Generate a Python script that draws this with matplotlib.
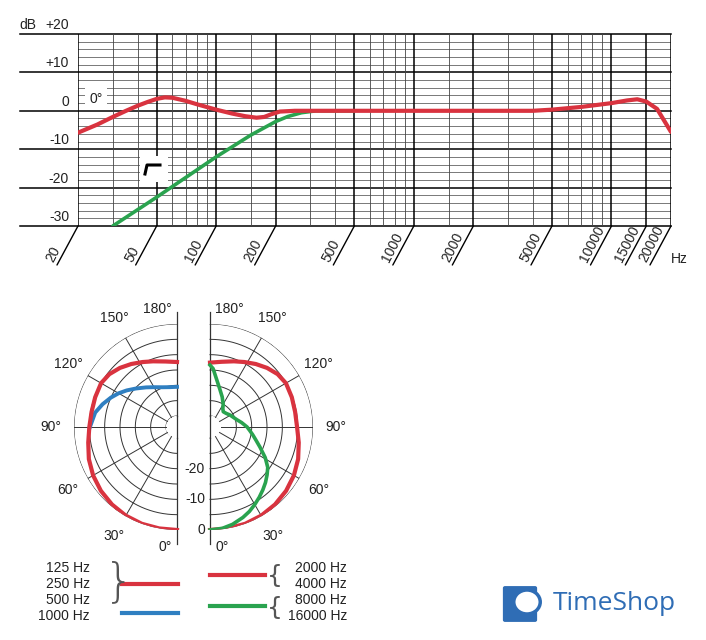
import numpy as np
import matplotlib
matplotlib.use("Agg")
import matplotlib.pyplot as plt
from matplotlib.patches import FancyBboxPatch, Circle, Rectangle

plt.rcParams['font.family'] = ['Liberation Sans', 'DejaVu Sans']

W, H = 706, 640

# frequency response (0 deg)
resp_freq = [20, 25, 30, 35, 40, 45, 50, 55, 60, 70, 80, 100, 120, 140, 160, 175, 190,
             210, 250, 500, 1000, 2000, 4000, 5000, 7000, 10000, 12000, 13500, 15000,
             17000, 20000]
resp_db = [-5.7, -3.6, -1.6, 0.0, 1.3, 2.3, 3.1, 3.5, 3.4, 2.6, 1.7, 0.3, -0.7, -1.4,
           -1.8, -1.6, -0.9, -0.2, 0, 0, 0, 0, 0, 0.3, 1.0, 2.0, 2.7, 3.0, 2.4, 0.5, -5.5]
cut_freq = [30, 50, 100, 150, 200, 230, 270, 320, 500]
cut_db = [-30, -22.5, -12.0, -6.3, -2.8, -1.5, -0.5, 0, 0]

major_f = [20, 50, 100, 200, 500, 1000, 2000, 5000, 10000, 15000, 20000]
major_lbl = ["20", "50", "100", "200", "500", "1000", "2000", "5000", "10000", "15000", "20000"]
minor_f = [30, 40, 60, 70, 80, 90, 150, 300, 400, 600, 700, 800, 900, 1500, 3000, 4000,
           6000, 7000, 8000, 9000]
y_lbl = ["+20", "+10", "0", "-10", "-20", "-30"]

# polar patterns (angle deg, dB)
low_ang = [0, 10, 20, 30, 40, 50, 60, 70, 80, 90, 100, 110, 120, 128, 136, 144, 152,
           160, 170, 180]
low_db = [0, 0, 0, -0.2, -0.6, -1.2, -2.0, -3.0, -4.2, -5.0, -5.3, -5.2, -5.0, -5.6,
          -6.8, -8.2, -9.6, -10.8, -11.9, -12.4]
k1_ang = [90, 100, 107, 114, 120, 126, 133, 142, 150, 160, 170, 180]
k1_db = [-5.2, -6.5, -8.2, -10, -11.6, -13.3, -15.2, -17.2, -18.6, -19.8, -20.4, -20.5]
mid_ang = [0, 10, 20, 30, 40, 50, 60, 70, 80, 90, 100, 110, 120, 128, 136, 144, 152,
           160, 170, 180]
mid_db = [0, 0, 0, -0.2, -0.6, -1.2, -2.0, -3.0, -4.2, -5.2, -5.4, -5.2, -5.0, -5.6,
          -6.8, -8.2, -9.6, -10.8, -12.0, -12.6]
hi_ang = [0, 7, 13, 20, 25, 30, 35, 40, 45, 50, 55, 61, 68, 74, 80, 85, 90, 98, 105,
          113, 121, 130, 139, 145, 150, 158, 165, 171, 177, 180]
hi_db = [0, -0.3, -1, -2.2, -3.2, -4.4, -5.6, -6.8, -8.0, -9.3, -10.6, -13.0, -16,
         -18.0, -19.5, -20.6, -21.5, -23.2, -24.5, -25.4, -26, -26.7, -27, -26.3, -25,
         -23, -21, -18.5, -14.5, -13.4]

fig = plt.figure(figsize=(W / 100, H / 100), dpi=100)


def fx(x):
    return x / W


def fy(y):
    return 1 - y / H


# ---------- frequency response ----------
x0, x1, yt, yb = 78, 671, 34, 226
ax = fig.add_axes([fx(x0), fy(yb), fx(x1 - x0), (yb - yt) / H])
ax.set_xscale('log')
ax.set_xlim(20, 20000)
ax.set_ylim(-30, 20)
for s in ax.spines.values():
    s.set_visible(False)
ax.set_xticks([])
ax.set_yticks([])
ax.minorticks_off()

for d in range(-30, 21, 2):
    if d % 10 == 0:
        ax.plot([(20 - x0) / (x1 - x0), 1], [(d + 30) / 50] * 2, transform=ax.transAxes,
                color='black', lw=1.1, clip_on=False)
    else:
        ax.axhline(d, color='#444444', lw=0.5)
for f in major_f:
    ax.axvline(f, color='black', lw=1.1)
for f in minor_f:
    ax.axvline(f, color='#444444', lw=0.6)

ax.plot(cut_freq, cut_db, color='#2aa34f', lw=2.6, solid_capstyle='round', zorder=3)
ax.plot(resp_freq, resp_db, color='#d9333f', lw=3.0, solid_capstyle='round',
        solid_joinstyle='round', zorder=4)

for f, lbl in zip(major_f, major_lbl):
    ax.annotate('', xy=(f, 0), xycoords=('data', 'axes fraction'),
                xytext=(-21, -39), textcoords='offset pixels',
                arrowprops=dict(arrowstyle='-', lw=1.0, color='black',
                                shrinkA=0, shrinkB=0))
    ax.annotate(lbl, xy=(f, 0), xycoords=('data', 'axes fraction'),
                xytext=(-28, -35), textcoords='offset pixels',
                rotation=63, rotation_mode='anchor', ha='left', va='center',
                fontsize=10, color='#222222')

for i, lbl in enumerate(y_lbl):
    fig.text(fx(69), fy(yt + i * 38.4 - 9), lbl, ha='right', va='center',
             fontsize=10, color='#222222')
fig.text(fx(19), fy(yt - 9), "dB", ha='left', va='center', fontsize=10, color='#222222')
fig.text(fx(89), fy(99), "0°", ha='left', va='center', fontsize=10, color='#222222',
         bbox=dict(facecolor='white', edgecolor='none', pad=3))
# low cut symbol in a white box
fig.patches.append(Rectangle((fx(140), fy(182)), fx(28), 26 / H, transform=fig.transFigure,
                             facecolor='white', edgecolor='none', zorder=5))
fig.lines.append(plt.Line2D([fx(145), fx(147), fx(160)], [fy(174), fy(165), fy(165)],
                            transform=fig.transFigure, color='black', lw=2.2, zorder=6))
fig.text(fx(671), fy(259), "Hz", ha='left', va='center', fontsize=10, color='#222222')

# ---------- polar patterns ----------
R = 103
RMIN = -33.6


def polar_ax(cx, cy, direction):
    p = fig.add_axes([fx(cx - R), fy(cy + R), 2 * R / W, 2 * R / H], projection='polar')
    p.set_theta_zero_location('S')
    p.set_theta_direction(direction)
    p.set_ylim(RMIN, 0)
    p.axis('off')
    th = np.radians(np.linspace(0, 180, 181))
    for r in range(-30, 1, 5):
        p.plot(th, [r] * len(th), color='#333333', lw=0.7)
    p.fill_between(th, RMIN, -30, color='white', zorder=2)
    for a in [30, 60, 90, 120, 150]:
        p.plot([np.radians(a)] * 2, [-30, 0], color='#333333', lw=0.7)
    p.plot([0, 0], [-30, 4.5], color='#333333', lw=0.9, clip_on=False)
    p.plot([np.pi, np.pi], [-30, 4.0], color='#333333', lw=0.9, clip_on=False)
    p.plot([np.pi, 0], [-30, -30], color='#333333', lw=0.9, zorder=3)
    for a in [30, 60, 90, 120, 150]:
        p.text(np.radians(a), 7.4, f"{a}°", ha='center', va='center', fontsize=10,
               color='#222222', clip_on=False)
    return p


cxl, cxr, cy = 177, 210, 427
pl = polar_ax(cxl, cy, -1)
pr = polar_ax(cxr, cy, 1)

pl.plot(np.radians(k1_ang), k1_db, color='#2f7fc1', lw=2.8, zorder=4,
        solid_joinstyle='round')
pl.plot(np.radians(low_ang), low_db, color='#d9333f', lw=3.0, zorder=5,
        solid_joinstyle='round')
pr.plot(np.radians(mid_ang), mid_db, color='#d9333f', lw=3.0, zorder=4,
        solid_joinstyle='round')
pr.plot(np.radians(hi_ang), hi_db, color='#2aa34f', lw=2.6, zorder=5,
        solid_joinstyle='round')

fig.text(fx(172), fy(309), "180°", ha='right', va='center', fontsize=10, color='#222222')
fig.text(fx(215), fy(309), "180°", ha='left', va='center', fontsize=10, color='#222222')
fig.text(fx(172), fy(547), "0°", ha='right', va='center', fontsize=10, color='#222222')
fig.text(fx(215), fy(547), "0°", ha='left', va='center', fontsize=10, color='#222222')
for r in [-20, -10, 0]:
    pr.annotate(str(r), xy=(0, r), xytext=(-5, 0), textcoords='offset pixels',
                ha='right', va='center', fontsize=10, color='#222222')

# ---------- legend ----------
left_lbl = ["125 Hz", "250 Hz", "500 Hz", "1000 Hz"]
right_lbl = ["2000 Hz", "4000 Hz", "8000 Hz", "16000 Hz"]
for i, lbl in enumerate(left_lbl):
    fig.text(fx(90), fy(568 + i * 16), lbl, ha='right', va='center', fontsize=10, color='#222222')
for i, lbl in enumerate(right_lbl):
    fig.text(fx(347), fy(568 + i * 16), lbl, ha='right', va='center', fontsize=10, color='#222222')
fig.text(fx(104), fy(582), "}", ha='left', va='center', fontsize=34, color='#555555',
         family='DejaVu Sans', fontweight='ultralight')
fig.text(fx(283), fy(576), "{", ha='right', va='center', fontsize=18, color='#555555',
         family='DejaVu Sans')
fig.text(fx(283), fy(608), "{", ha='right', va='center', fontsize=18, color='#555555',
         family='DejaVu Sans')
for (xa, xb, yy, c) in [(122, 178, 584, '#d9333f'), (122, 178, 613, '#2f7fc1'),
                        (210, 265, 575, '#d9333f'), (210, 265, 606, '#2aa34f')]:
    fig.lines.append(plt.Line2D([fx(xa), fx(xb)], [fy(yy), fy(yy)],
                                transform=fig.transFigure, color=c, lw=3.0))

# ---------- logo ----------
logo_c = '#2f6db5'
bag = FancyBboxPatch((fx(505), fy(620)), fx(30), 32 / H, boxstyle='round,pad=0.003',
                     transform=fig.transFigure, facecolor=logo_c, edgecolor='none')
fig.patches.append(bag)
fig.patches.append(Circle((fx(527), fy(602)), 12 / H, transform=fig.transFigure,
                          facecolor='white', edgecolor=logo_c, lw=2.5))
fig.text(fx(553), fy(604), "TimeShop", ha='left', va='center', fontsize=19,
         color=logo_c, family='Open Sans')

fig.savefig("out.png", dpi=100)
